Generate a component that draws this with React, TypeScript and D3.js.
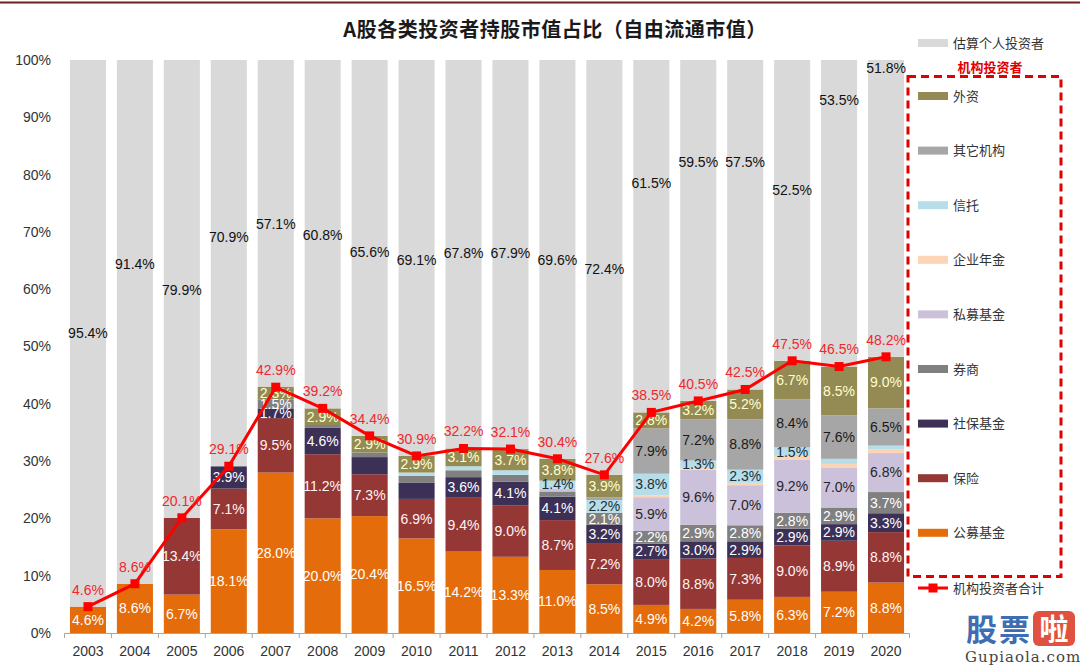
import React from "react";
import * as d3 from "d3";

const years = ["2003","2004","2005","2006","2007","2008","2009","2010","2011","2012","2013","2014","2015","2016","2017","2018","2019","2020"];
const gongmu = [4.6, 8.6, 6.7, 18.1, 28.0, 20.0, 20.4, 16.5, 14.2, 13.3, 11.0, 8.5, 4.9, 4.2, 5.8, 6.3, 7.2, 8.8];
const baoxian = [0, 0, 13.4, 7.1, 9.5, 11.2, 7.3, 6.9, 9.4, 9.0, 8.7, 7.2, 8.0, 8.8, 7.3, 9.0, 8.9, 8.8];
const shebao = [0, 0, 0, 3.9, 1.7, 4.6, 3.0, 2.8, 3.6, 4.1, 4.1, 3.2, 2.7, 3.0, 2.9, 2.9, 2.9, 3.3];
const quanshang = [0, 0, 0, 0, 1.5, 0.5, 0.8, 1.2, 1.2, 1.2, 0.9, 2.1, 2.2, 2.9, 2.8, 2.8, 2.9, 3.7];
const simu = [0, 0, 0, 0, 0, 0, 0, 0, 0, 0, 0.5, 0, 5.9, 9.6, 7.0, 9.2, 7.0, 6.8];
const qiyenianjin = [0, 0, 0, 0, 0, 0, 0, 0, 0, 0, 0, 0, 0.3, 0.3, 0.4, 0.7, 0.6, 0.6];
const xintuo = [0, 0, 0, 0, 0, 0, 0, 0.6, 0.7, 0.8, 1.4, 2.2, 3.8, 1.3, 2.3, 1.5, 0.9, 0.7];
const qita = [0, 0, 0, 0, 0, 0, 0, 0, 0, 0, 0, 0.5, 7.9, 7.2, 8.8, 8.4, 7.6, 6.5];
const waizi = [0, 0, 0, 0, 2.3, 2.9, 2.9, 2.9, 3.1, 3.7, 3.8, 3.9, 2.8, 3.2, 5.2, 6.7, 8.5, 9.0];
const geren = [95.4, 91.4, 79.9, 70.9, 57.1, 60.8, 65.6, 69.1, 67.8, 67.9, 69.6, 72.4, 61.5, 59.5, 57.5, 52.5, 53.5, 51.8];
const jigouTotal = [4.6, 8.6, 20.1, 29.1, 42.9, 39.2, 34.4, 30.9, 32.2, 32.1, 30.4, 27.6, 38.5, 40.5, 42.5, 47.5, 46.5, 48.2];
const gerenLabelAt = [52.4, 64.4, 59.9, 69.1, 71.4, 69.5, 66.5, 65.1, 66.3, 66.3, 65.1, 63.5, 78.5, 82.2, 82.2, 77.3, 93.0, 98.6];
const yTicks = [0, 10, 20, 30, 40, 50, 60, 70, 80, 90, 100];
const unlabeled = ["2009|社保基金", "2010|社保基金"];

const seriesDefs = [
  { key: "公募基金", values: gongmu, color: "#E46C0A", text: "#FFFFFF" },
  { key: "保险", values: baoxian, color: "#953735", text: "#FFF4F4" },
  { key: "社保基金", values: shebao, color: "#3C3057", text: "#FFFFFF" },
  { key: "券商", values: quanshang, color: "#808080", text: "#FFFFFF" },
  { key: "私募基金", values: simu, color: "#CCC1DA", text: "#262626" },
  { key: "企业年金", values: qiyenianjin, color: "#FBD5B5", text: "#262626" },
  { key: "信托", values: xintuo, color: "#B7DEE8", text: "#1A2F3A" },
  { key: "其它机构", values: qita, color: "#A6A6A6", text: "#1A1A1A" },
  { key: "外资", values: waizi, color: "#948A54", text: "#FFFFCC" },
  { key: "估算个人投资者", values: geren, color: "#D9D9D9", text: "#111111" },
];

const legendInstitutions = ["外资", "其它机构", "信托", "企业年金", "私募基金", "券商", "社保基金", "保险", "公募基金"];

export default function App() {
  const W = 1080, H = 665;
  const x = d3.scaleBand<string>().domain(years).range([64.5, 909.5]).paddingInner(0.232).paddingOuter(0.116);
  const y = d3.scaleLinear().domain([0, 100]).range([633, 60]);
  const rows = years.map((yr, i) => {
    const r: any = { year: yr };
    seriesDefs.forEach((s) => (r[s.key] = s.values[i]));
    return r;
  });
  const stack = d3.stack<any>().keys(seriesDefs.map((s) => s.key))(rows);
  const line = d3.line<number>().x((_, i) => (x(years[i]) as number) + x.bandwidth() / 2).y((d) => y(d));
  const font = "'Liberation Sans', Arial, sans-serif";
  const cjk = "'Noto Sans CJK SC', 'Noto Sans', sans-serif";
  const bw = x.bandwidth();
  const step = x.step();

  const legendY: Record<string, number> = {};
  legendInstitutions.forEach((k, i) => (legendY[k] = 96 + i * 54.6));

  return (
    <svg width={W} height={H} style={{ position: "absolute", left: 0, top: 0, display: "block", background: "#fff" }}>
      <line x1={0} x2={W} y1={2.5} y2={2.5} stroke="#6E1E1E" strokeWidth={2} />
      <text x={555} y={37} textAnchor="middle" fontFamily={cjk} fontWeight="bold" fontSize={20} letterSpacing={0.5} fill="#1a1a1a">
        A股各类投资者持股市值占比（自由流通市值）
      </text>

      {yTicks.map((t) => (
        <text key={t} x={51} y={y(t)} dy="0.35em" textAnchor="end" fontFamily={font} fontSize={14} fill="#333">
          {t}%
        </text>
      ))}

      {stack.map((layer, li) => {
        const s = seriesDefs[li];
        return (
          <g key={s.key}>
            {layer.map((d, i) => {
              const top = Math.min(d[1], 100);
              const h = y(d[0]) - y(top);
              if (h <= 0) return null;
              return <rect key={i} x={x(years[i])} y={y(top)} width={bw} height={h} fill={s.color} />;
            })}
          </g>
        );
      })}

      <line x1={64.5} x2={909.5} y1={633.5} y2={633.5} stroke="#A6A6A6" strokeWidth={1} />
      {d3.range(years.length + 1).map((i) => {
        const xx = 64.5 + i * step;
        return <line key={i} x1={xx} x2={xx} y1={633.5} y2={638} stroke="#A6A6A6" strokeWidth={1} />;
      })}
      {years.map((yr) => (
        <text key={yr} x={(x(yr) as number) + bw / 2} y={651} dy="0.35em" textAnchor="middle" fontFamily={font} fontSize={14} fill="#333">
          {yr}
        </text>
      ))}

      {stack.map((layer, li) => {
        const s = seriesDefs[li];
        return (
          <g key={"lab" + s.key}>
            {layer.map((d, i) => {
              const v = s.values[i];
              const cx = (x(years[i]) as number) + bw / 2;
              if (s.key === "估算个人投资者") {
                return (
                  <text key={i} x={cx} y={y(gerenLabelAt[i])} dy="0.35em" textAnchor="middle" fontFamily={font} fontSize={14} fill={s.text}>
                    {v.toFixed(1)}%
                  </text>
                );
              }
              if (v < 1.3 || unlabeled.includes(years[i] + "|" + s.key)) return null;
              return (
                <text key={i} x={cx} y={y((d[0] + d[1]) / 2)} dy="0.35em" textAnchor="middle" fontFamily={font} fontSize={14} fill={s.text}>
                  {v.toFixed(1)}%
                </text>
              );
            })}
          </g>
        );
      })}

      <path d={line(jigouTotal) || ""} fill="none" stroke="#FF0000" strokeWidth={3} />
      {jigouTotal.map((v, i) => {
        const cx = (x(years[i]) as number) + bw / 2;
        return (
          <g key={"m" + i}>
            <rect x={cx - 4.5} y={y(v) - 4.5} width={9} height={9} fill="#FF0000" />
            <text x={cx} y={y(v) - 17} dy="0.35em" textAnchor="middle" fontFamily={font} fontSize={14} fill="#F0282D">
              {v.toFixed(1)}%
            </text>
          </g>
        );
      })}

      {/* Legend */}
      <rect x={918} y={39} width={30} height={8} fill="#D9D9D9" />
      <text x={953} y={43} dy="0.35em" fontFamily={cjk} fontSize={13} fill="#333">估算个人投资者</text>
      <text x={990} y={67} dy="0.35em" textAnchor="middle" fontFamily={cjk} fontSize={13} fontWeight="bold" fill="#E00000">机构投资者</text>
      <rect x={908} y={76.5} width={153} height={500} fill="none" stroke="#E00000" strokeWidth={3} strokeDasharray="8 5" />
      {legendInstitutions.map((k) => {
        const s = seriesDefs.find((d) => d.key === k)!;
        return (
          <g key={"lg" + k}>
            <rect x={918} y={legendY[k] - 4} width={30} height={8} fill={s.color} />
            <text x={953} y={legendY[k]} dy="0.35em" fontFamily={cjk} fontSize={13} fill="#333">{k}</text>
          </g>
        );
      })}
      <line x1={918} x2={948} y1={588} y2={588} stroke="#FF0000" strokeWidth={3} />
      <rect x={928.5} y={583.5} width={9} height={9} fill="#FF0000" />
      <text x={953} y={588} dy="0.35em" fontFamily={cjk} fontSize={13} fill="#333">机构投资者合计</text>

      {/* watermark */}
      <text x={966} y={641} fontFamily={cjk} fontWeight="bold" fontSize={31} fill="#3F6DB3" letterSpacing={2}>股票</text>
      <rect x={1033} y={611} width={42} height={35} rx={6} fill="#E0523F" />
      <text x={1054} y={640} textAnchor="middle" fontFamily={cjk} fontWeight="bold" fontSize={29} fill="#FFFFFF">啦</text>
      <text x={965} y={662} fontFamily="'DejaVu Serif', 'Liberation Serif', serif" fontSize={15} fill="#444" letterSpacing={1}>Gupiaola.com</text>
    </svg>
  );
}
